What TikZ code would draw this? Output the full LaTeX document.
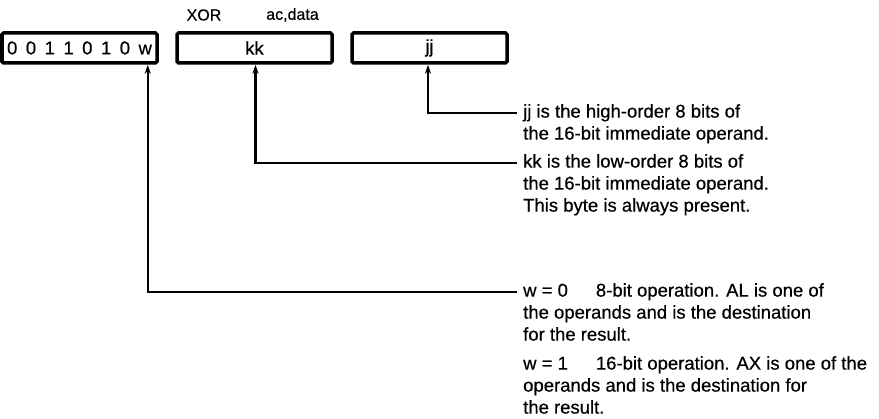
\documentclass[tikz,border=0pt]{standalone}
\usepackage{fontspec}
\setmainfont{Liberation Sans}[FakeBold=0.5]
\usepackage{tikz}
\usetikzlibrary{arrows.meta, positioning, calc}

\tikzset{
  field/.style={draw, line width=3.5pt, rounded corners=1.5pt, minimum width=155pt, minimum height=30pt, inner sep=0pt},
  desc/.style={align=left, anchor=north west, inner sep=0pt, font=\fontsize{18.5}{22}\selectfont},
  ptr/.style={line width=2.5pt, -{Stealth[length=9pt,width=6pt]}}
}
\newcommand{\bitgap}{\hspace{8.5pt}}

\begin{document}
\begin{tikzpicture}[x=1pt, y=-1pt, font=\fontsize{18.5}{22}\selectfont]
  \useasboundingbox (0,0) rectangle (879,419);

  % Instruction fields
  \node[field] (opbox) at (79.5,48) {0\bitgap0\bitgap1\bitgap1\bitgap0\bitgap1\bitgap0\bitgap w};
  \node[field] (kkbox) at (254.5,48) {kk};
  \node[field] (jjbox) at (429.5,48) {jj};

  % Mnemonic
  \node[font=\fontsize{16}{18}\selectfont] (mnem) at (204,15) {XOR};
  \node[font=\fontsize{16}{18}\selectfont] (opnd) at (292.5,15) {ac,data};

  % Line ends next to the texts
  \coordinate (jjend) at (517,113);
  \coordinate (kkend) at (517,163);
  \coordinate (wend) at (517,292);

  % Descriptions
  \node[desc] (jjdesc) at ([xshift=6pt,yshift=9pt]jjend) {jj is the high-order 8 bits of\\the 16-bit immediate operand.};
  \node[desc] (kkdesc) at ([xshift=6pt,yshift=9pt]kkend) {kk is the low-order 8 bits of\\the 16-bit immediate operand.\\This byte is always present.};
  \node[desc] (w0desc) at ([xshift=6pt,yshift=9pt]wend) {w = 0\hspace{28pt}8-bit operation. AL is one of\\the operands and is the destination\\for the result.};
  \node[desc, below=15pt of w0desc.south west, anchor=north west] (w1desc) {w = 1\hspace{28pt}16-bit operation. AX is one of the\\operands and is the destination for\\the result.};

  % Points on the fields
  \coordinate (wpt) at ([xshift=-11pt]opbox.south east);
  \coordinate (kkpt) at ([xshift=1pt]kkbox.south);
  \coordinate (jjpt) at ([xshift=-1.5pt]jjbox.south);

  % Pointers
  \draw[ptr] (jjend) -| (jjpt);
  \draw[ptr] (kkend) -| (kkpt);
  \draw[ptr] (wend) -| (wpt);
\end{tikzpicture}
\end{document}
